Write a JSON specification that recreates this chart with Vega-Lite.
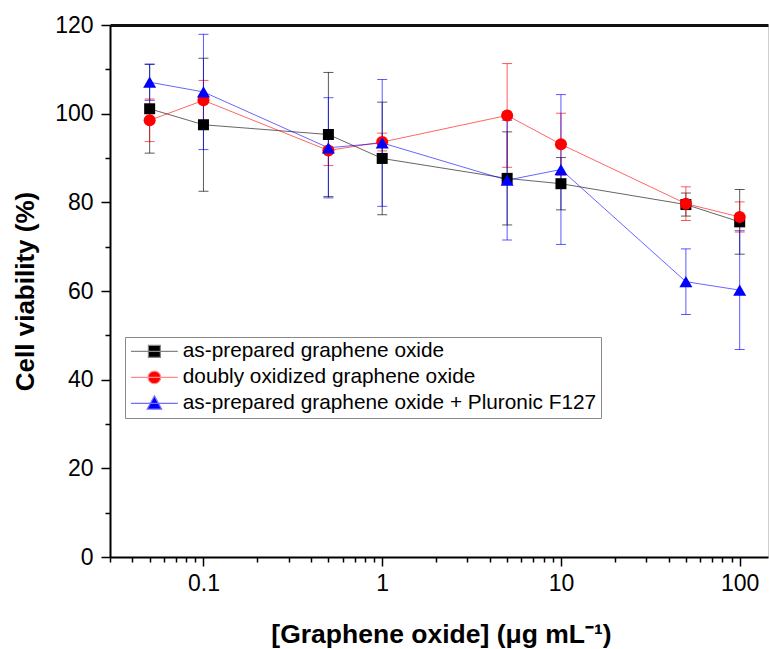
{
  "$schema": "https://vega.github.io/schema/vega-lite/v6.json",
  "width": 658,
  "height": 532,
  "autosize": {"type": "none"},
  "padding": {"left": 110, "top": 25, "right": 1, "bottom": 92},
  "config": {"view": {"stroke": "#cfcfcf", "strokeWidth": 1}, "font": "Liberation Sans"},
  "data": {"values": [
    {"c": 0.05, "s": "as-prepared graphene oxide", "v": 101.1, "e": 10},
    {"c": 0.1, "s": "as-prepared graphene oxide", "v": 97.5, "e": 15},
    {"c": 0.5, "s": "as-prepared graphene oxide", "v": 95.3, "e": 14},
    {"c": 1, "s": "as-prepared graphene oxide", "v": 89.9, "e": 12.7},
    {"c": 5, "s": "as-prepared graphene oxide", "v": 85.4, "e": 10.5},
    {"c": 10, "s": "as-prepared graphene oxide", "v": 84.2, "e": 5.9},
    {"c": 50, "s": "as-prepared graphene oxide", "v": 79.5, "e": 2.6},
    {"c": 100, "s": "as-prepared graphene oxide", "v": 75.6, "e": 7.3},
    {"c": 0.05, "s": "doubly oxidized graphene oxide", "v": 98.5, "e": 4.8},
    {"c": 0.1, "s": "doubly oxidized graphene oxide", "v": 103, "e": 4.5},
    {"c": 0.5, "s": "doubly oxidized graphene oxide", "v": 91.7, "e": 3.4},
    {"c": 1, "s": "doubly oxidized graphene oxide", "v": 93.6, "e": 2},
    {"c": 5, "s": "doubly oxidized graphene oxide", "v": 99.6, "e": 11.7},
    {"c": 10, "s": "doubly oxidized graphene oxide", "v": 93.1, "e": 7},
    {"c": 50, "s": "doubly oxidized graphene oxide", "v": 79.7, "e": 3.8},
    {"c": 100, "s": "doubly oxidized graphene oxide", "v": 76.7, "e": 3.4},
    {"c": 0.05, "s": "as-prepared graphene oxide + Pluronic F127", "v": 107.1, "e": 4.1},
    {"c": 0.1, "s": "as-prepared graphene oxide + Pluronic F127", "v": 104.9, "e": 13},
    {"c": 0.5, "s": "as-prepared graphene oxide + Pluronic F127", "v": 92.3, "e": 11.3},
    {"c": 1, "s": "as-prepared graphene oxide + Pluronic F127", "v": 93.4, "e": 14.3},
    {"c": 5, "s": "as-prepared graphene oxide + Pluronic F127", "v": 85, "e": 13.5},
    {"c": 10, "s": "as-prepared graphene oxide + Pluronic F127", "v": 87.4, "e": 16.9},
    {"c": 50, "s": "as-prepared graphene oxide + Pluronic F127", "v": 62.1, "e": 7.4},
    {"c": 100, "s": "as-prepared graphene oxide + Pluronic F127", "v": 60.2, "e": 13.4}
  ]},
  "layer": [
    {
      "mark": {"type": "line", "strokeWidth": 1, "opacity": 0.6},
      "encoding": {
        "x": {"field": "c", "type": "quantitative",
          "scale": {"type": "log", "domain": [0.03, 144], "nice": false},
          "axis": {
            "orient": "bottom",
            "title": "[Graphene oxide] (μg mL⁻¹)",
            "values": [0.03, 0.04, 0.05, 0.06, 0.07, 0.08, 0.09, 0.1, 0.2, 0.3, 0.4, 0.5, 0.6, 0.7, 0.8, 0.9, 1, 2, 3, 4, 5, 6, 7, 8, 9, 10, 20, 30, 40, 50, 60, 70, 80, 90, 100],
            "labelExpr": "(datum.value == 0.1 || datum.value == 1 || datum.value == 10 || datum.value == 100) ? '' + datum.value : ''",
            "tickSize": {"condition": {"test": "datum.value == 0.1 || datum.value == 1 || datum.value == 10 || datum.value == 100", "value": 9}, "value": 5},
            "tickWidth": 1.5, "tickColor": "#000", "domainColor": "#000", "domainWidth": 2,
            "labelFontSize": 23, "labelColor": "#000", "labelPadding": 6,
            "labelOverlap": false, "labelFlush": false, "labelBound": false, "grid": false,
            "titleFontSize": 26.5, "titleFontWeight": "bold", "titleColor": "#000",
            "titleX": 331, "titleY": 77, "titleAlign": "center", "titleBaseline": "middle"
          }
        },
        "y": {"field": "v", "type": "quantitative", "title": "Cell viability (%)",
          "scale": {"domain": [0, 120], "nice": false},
          "axis": {
            "values": [0, 10, 20, 30, 40, 50, 60, 70, 80, 90, 100, 110, 120],
            "labelExpr": "datum.value % 20 == 0 ? '' + datum.value : ''",
            "tickSize": {"condition": {"test": "datum.value % 20 == 0", "value": 9}, "value": 5},
            "tickWidth": 1.5, "tickColor": "#000", "domainColor": "#000", "domainWidth": 2,
            "labelFontSize": 23, "labelColor": "#000", "labelPadding": 8,
            "labelOverlap": false, "labelFlush": false, "labelBound": false, "grid": false,
            "titleFontSize": 26, "titleFontWeight": "bold", "titleColor": "#000",
            "titleX": -85, "titleY": 266, "titleAngle": -90, "titleAlign": "center", "titleBaseline": "middle"
          }
        },
        "color": {"field": "s", "type": "nominal", "legend": null,
          "scale": {"domain": ["as-prepared graphene oxide", "doubly oxidized graphene oxide", "as-prepared graphene oxide + Pluronic F127"], "range": ["#000000", "#ff0000", "#0000ff"]}}
      }
    },
    {
      "mark": {"type": "errorbar", "ticks": {"size": 10, "opacity": 0.65}, "rule": {"opacity": 0.65}, "thickness": 1},
      "encoding": {
        "x": {"field": "c", "type": "quantitative", "axis": null},
        "y": {"field": "v", "type": "quantitative", "title": "Cell viability (%)"},
        "yError": {"field": "e"},
        "color": {"field": "s", "type": "nominal", "legend": null}
      }
    },
    {
      "mark": {"type": "point", "filled": true, "opacity": 1},
      "encoding": {
        "x": {"field": "c", "type": "quantitative", "axis": null},
        "y": {"field": "v", "type": "quantitative", "title": "Cell viability (%)"},
        "color": {"field": "s", "type": "nominal", "legend": null},
        "shape": {"field": "s", "type": "nominal", "legend": null,
          "scale": {"domain": ["as-prepared graphene oxide", "doubly oxidized graphene oxide", "as-prepared graphene oxide + Pluronic F127"], "range": ["square", "circle", "triangle-up"]}},
        "size": {"field": "s", "type": "nominal", "legend": null,
          "scale": {"domain": ["as-prepared graphene oxide", "doubly oxidized graphene oxide", "as-prepared graphene oxide + Pluronic F127"], "range": [121, 169, 200]}}
      }
    },
    {
      "transform": [{"filter": "datum.v < 0"}],
      "mark": {"type": "point", "filled": true, "strokeWidth": 1.2, "size": 144, "opacity": 1, "fillOpacity": 1, "strokeOpacity": 1},
      "encoding": {
        "x": {"field": "c", "type": "quantitative", "axis": null},
        "y": {"field": "v", "type": "quantitative", "title": "Cell viability (%)"},
        "fill": {"field": "s", "type": "nominal",
          "scale": {"domain": ["as-prepared graphene oxide", "doubly oxidized graphene oxide", "as-prepared graphene oxide + Pluronic F127"], "range": ["#000000", "#ff0000", "#0000ff"]},
          "legend": {
            "orient": "none", "legendX": 15, "legendY": 312, "title": null,
            "labelFontSize": 20.8, "labelFont": "Liberation Sans", "labelColor": "#000",
            "symbolSize": 144, "symbolOffset": 15, "symbolStrokeWidth": 1.2, "symbolOpacity": 1, "labelOffset": 18,
            "padding": 4, "rowPadding": 4, "strokeColor": "#8a8a8a", "fillColor": "#ffffff", "labelLimit": 0
          }
        },
        "stroke": {"field": "s", "type": "nominal",
          "scale": {"domain": ["as-prepared graphene oxide", "doubly oxidized graphene oxide", "as-prepared graphene oxide + Pluronic F127"], "range": ["#858585", "#ff8a8a", "#6e6eff"]}},
        "shape": {"field": "s", "type": "nominal",
          "scale": {"domain": ["as-prepared graphene oxide", "doubly oxidized graphene oxide", "as-prepared graphene oxide + Pluronic F127"],
            "range": ["M-3.9,0H3.9M-1,-1H1V1H-1Z", "M-3.9,0H3.9M-1.05,0A1.05,1.05 0 1,1 1.05,0A1.05,1.05 0 1,1 -1.05,0Z", "M-3.9,0H3.9M0,-1.25L1.2,0.95L-1.2,0.95Z"]}}
      }
    },
    {
      "mark": {"type": "point", "opacity": 0},
      "encoding": {
        "x": {"field": "c", "type": "quantitative",
          "axis": {"orient": "top", "labels": false, "ticks": false, "domainWidth": 3, "domainColor": "#111111", "title": null, "grid": false}}
      }
    }
  ],
  "resolve": {"axis": {"x": "independent"}, "scale": {"shape": "independent"}, "legend": {"color": "independent", "shape": "independent", "size": "independent", "fill": "independent", "stroke": "independent"}}
}
